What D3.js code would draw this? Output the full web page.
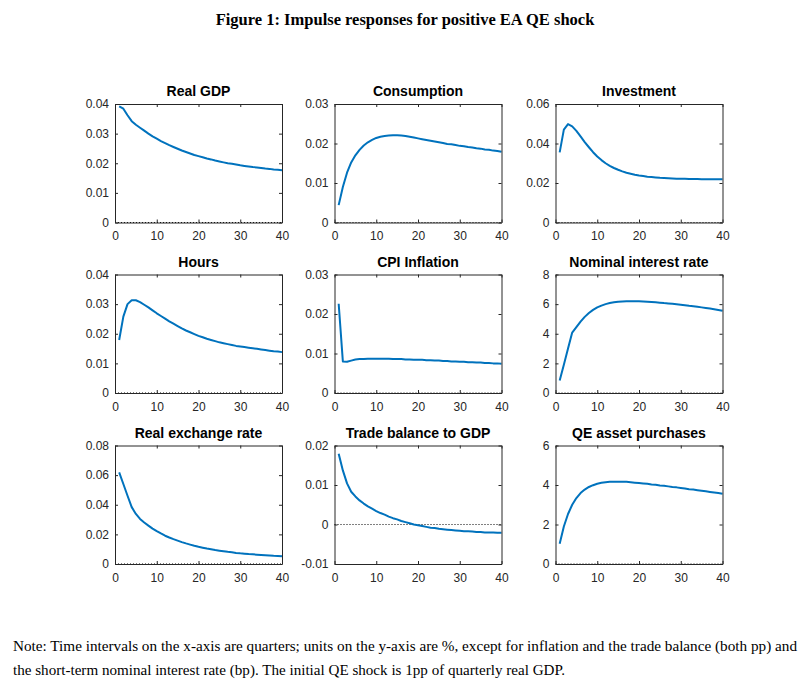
<!DOCTYPE html>
<html>
<head>
<meta charset="utf-8">
<script src="https://cdn.jsdelivr.net/npm/d3@7"></script>
<style>
  html, body { margin: 0; padding: 0; background: #fff; }
  svg { display: block; }
</style>
</head>
<body>
<svg id="chart" width="802" height="695"></svg>
<script>
const quarters = d3.range(1, 41);
const xTicks = [0, 10, 20, 30, 40];

const realGDP = [0.0392,0.0384,0.0362,0.0342,0.0330,0.0320,0.0310,0.0300,0.0291,0.0283,0.0275,0.0268,0.0261,0.0255,0.0249,0.0243,0.0238,0.0233,0.0228,0.0224,0.0220,0.0216,0.0213,0.0209,0.0206,0.0203,0.0200,0.0198,0.0196,0.0193,0.0191,0.0189,0.0187,0.0186,0.0184,0.0182,0.0181,0.0179,0.0178,0.0176];
const consumption = [0.0044,0.0090,0.0126,0.0152,0.0170,0.0184,0.0195,0.0203,0.0209,0.0214,0.0217,0.0219,0.0220,0.0221,0.0221,0.0220,0.0219,0.0217,0.0215,0.0213,0.0211,0.0209,0.0207,0.0205,0.0203,0.0201,0.0199,0.0198,0.0196,0.0194,0.0193,0.0191,0.0190,0.0188,0.0187,0.0185,0.0184,0.0182,0.0181,0.0179];
const investment = [0.0355,0.0470,0.0498,0.0487,0.0464,0.0436,0.0407,0.0381,0.0356,0.0334,0.0316,0.0300,0.0287,0.0276,0.0267,0.0259,0.0252,0.0247,0.0242,0.0238,0.0235,0.0232,0.0230,0.0228,0.0226,0.0225,0.0224,0.0223,0.0222,0.0221,0.0221,0.0220,0.0220,0.0220,0.0219,0.0219,0.0219,0.0219,0.0219,0.0219];
const hours = [0.0179,0.0258,0.0300,0.0313,0.0313,0.0307,0.0298,0.0289,0.0279,0.0269,0.0260,0.0251,0.0242,0.0234,0.0226,0.0218,0.0211,0.0205,0.0199,0.0193,0.0188,0.0183,0.0179,0.0175,0.0171,0.0168,0.0165,0.0162,0.0159,0.0157,0.0155,0.0153,0.0151,0.0149,0.0147,0.0145,0.0143,0.0141,0.0140,0.0138];
const cpiInflation = [0.0226,0.0080,0.0079,0.0082,0.0085,0.0086,0.0086,0.0087,0.0087,0.0087,0.0087,0.0087,0.0087,0.0086,0.0086,0.0086,0.0085,0.0085,0.0084,0.0084,0.0084,0.0083,0.0083,0.0082,0.0082,0.0081,0.0081,0.0080,0.0080,0.0079,0.0079,0.0078,0.0078,0.0077,0.0077,0.0076,0.0076,0.0075,0.0075,0.0074];
const nominalRate = [0.85,1.90,3.00,4.08,4.45,4.82,5.14,5.40,5.61,5.78,5.90,6.00,6.07,6.12,6.16,6.18,6.19,6.20,6.20,6.19,6.18,6.16,6.14,6.12,6.10,6.07,6.05,6.02,5.99,5.96,5.93,5.89,5.86,5.82,5.78,5.74,5.70,5.66,5.61,5.55];
const realExchangeRate = [0.0619,0.0540,0.0461,0.0384,0.0338,0.0304,0.0280,0.0259,0.0239,0.0222,0.0206,0.0191,0.0179,0.0168,0.0158,0.0148,0.0139,0.0131,0.0123,0.0116,0.0110,0.0104,0.0099,0.0094,0.0090,0.0086,0.0082,0.0079,0.0075,0.0072,0.0070,0.0067,0.0065,0.0063,0.0061,0.0059,0.0057,0.0055,0.0054,0.0052];
const tradeBalance = [0.0179,0.0137,0.0104,0.0083,0.0071,0.0061,0.0053,0.0046,0.0040,0.0034,0.0029,0.0025,0.0020,0.0016,0.0013,0.0009,0.0006,0.0003,0.0000,-0.0002,-0.0004,-0.0006,-0.0008,-0.0009,-0.0011,-0.0012,-0.0013,-0.0014,-0.0015,-0.0016,-0.0017,-0.0017,-0.0018,-0.0019,-0.0019,-0.0020,-0.0020,-0.0020,-0.0021,-0.0021];
const qePurchases = [1.02,1.90,2.53,3.00,3.34,3.59,3.77,3.90,3.99,4.06,4.11,4.14,4.16,4.17,4.17,4.17,4.16,4.14,4.12,4.10,4.08,4.06,4.03,4.01,3.98,3.96,3.93,3.90,3.88,3.85,3.82,3.79,3.77,3.74,3.71,3.68,3.65,3.62,3.59,3.56];

const panelTitles = ["Real GDP","Consumption","Investment","Hours","CPI Inflation","Nominal interest rate","Real exchange rate","Trade balance to GDP","QE asset purchases"];
const panelSeries = [realGDP, consumption, investment, hours, cpiInflation, nominalRate, realExchangeRate, tradeBalance, qePurchases];
const panelYTicks = [
  [0,0.01,0.02,0.03,0.04],
  [0,0.01,0.02,0.03],
  [0,0.02,0.04,0.06],
  [0,0.01,0.02,0.03,0.04],
  [0,0.01,0.02,0.03],
  [0,2,4,6,8],
  [0,0.02,0.04,0.06,0.08],
  [-0.01,0,0.01,0.02],
  [0,2,4,6]
];

const figureTitle = "Figure 1: Impulse responses for positive EA QE shock";
const noteLines = [
  "Note: Time intervals on the x-axis are quarters; units on the y-axis are %, except for inflation and the trade balance (both pp) and",
  "the short-term nominal interest rate (bp). The initial QE shock is 1pp of quarterly real GDP."
];

// ---- layout ----
const colLeft = [115, 334.5, 555.5];
const rowTop = [104, 274.5, 445.5];
const pw = 167, ph = 118.5;
const axisColor = "#262626";
const lineColor = "#0072BD";
const tickLen = 3;

const svg = d3.select("#chart");

svg.append("text")
  .attr("x", 405).attr("y", 25)
  .attr("text-anchor", "middle")
  .attr("font-family", "'Liberation Serif', 'Times New Roman', serif")
  .attr("font-weight", "bold")
  .attr("font-size", "16.5px")
  .attr("fill", "#000")
  .text(figureTitle);

const fmt = v => String(+v.toFixed(4));

panelTitles.forEach((title, i) => {
  const r = Math.floor(i / 3), c = i % 3;
  const g = svg.append("g").attr("transform", `translate(${colLeft[c]},${rowTop[r]})`);
  const yt = panelYTicks[i];
  const x = d3.scaleLinear().domain([0, 40]).range([0, pw]);
  const y = d3.scaleLinear().domain([yt[0], yt[yt.length - 1]]).range([ph, 0]);

  // zero dotted line
  g.append("line")
    .attr("x1", 0).attr("x2", pw)
    .attr("y1", y(0)).attr("y2", y(0))
    .attr("stroke", "#000").attr("stroke-width", 1)
    .attr("stroke-dasharray", "1,2");

  // data line
  const line = d3.line().x((d, j) => x(quarters[j])).y(d => y(d));
  g.append("path")
    .datum(panelSeries[i])
    .attr("d", line)
    .attr("fill", "none")
    .attr("stroke", lineColor)
    .attr("stroke-width", 2)
    .attr("stroke-linejoin", "round");

  // axes
  const xAxis = d3.axisBottom(x).tickValues(xTicks).tickSizeInner(-tickLen).tickSizeOuter(0).tickPadding(9).tickFormat(fmt);
  const xTop = d3.axisTop(x).tickValues(xTicks).tickSizeInner(-tickLen).tickSizeOuter(0).tickFormat("");
  const yAxis = d3.axisLeft(y).tickValues(yt).tickSizeInner(-tickLen).tickSizeOuter(0).tickPadding(6).tickFormat(fmt);
  const yRight = d3.axisRight(y).tickValues(yt).tickSizeInner(-tickLen).tickSizeOuter(0).tickFormat("");

  const gx = g.append("g").attr("transform", `translate(0,${ph})`).call(xAxis);
  const gxt = g.append("g").call(xTop);
  const gy = g.append("g").call(yAxis);
  const gyr = g.append("g").attr("transform", `translate(${pw},0)`).call(yRight);

  [gx, gxt, gy, gyr].forEach(a => {
    a.select(".domain").attr("stroke", axisColor).attr("stroke-width", 1);
    a.selectAll(".tick line").attr("stroke", axisColor).attr("stroke-width", 1);
    a.selectAll(".tick text")
      .attr("fill", axisColor)
      .attr("font-family", "Arial, 'Liberation Sans', Helvetica, sans-serif")
      .attr("font-size", "12px");
  });
  gx.selectAll(".tick text").attr("dy", "0.71em");

  g.append("text")
    .attr("x", pw / 2).attr("y", -8)
    .attr("text-anchor", "middle")
    .attr("font-family", "Arial, 'Liberation Sans', Helvetica, sans-serif")
    .attr("font-weight", "bold")
    .attr("font-size", "14px")
    .attr("fill", "#000")
    .text(title);
});

const noteWidths = [784, 552];
noteLines.forEach((t, k) => {
  svg.append("text")
    .attr("x", 13).attr("y", 651 + k * 24)
    .attr("font-family", "'Liberation Serif', 'Times New Roman', serif")
    .attr("font-size", "14px")
    .attr("fill", "#000")
    .attr("textLength", noteWidths[k])
    .attr("lengthAdjust", "spacingAndGlyphs")
    .text(t);
});
</script>
</body>
</html>
